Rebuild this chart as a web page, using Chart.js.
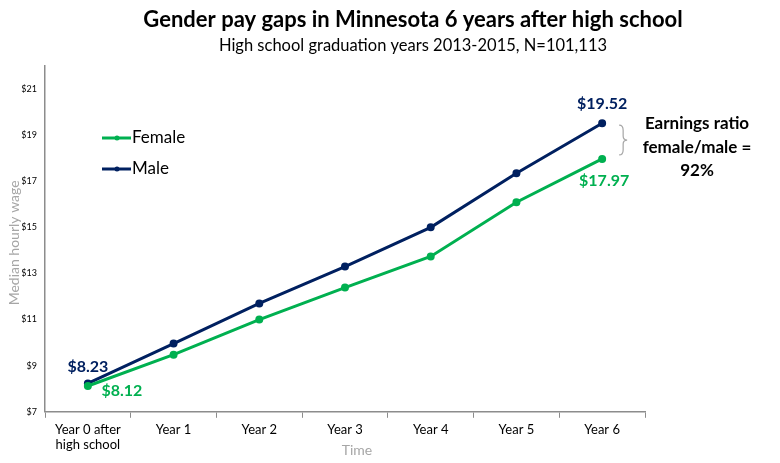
<!DOCTYPE html>
<html>
<head>
<meta charset="utf-8">
<script src="https://cdn.jsdelivr.net/npm/chart.js@4"></script>
<style>
  body { margin: 0; background: #fff; }
  #wrap { width: 780px; height: 463px; position: relative; }
</style>
</head>
<body>
<div id="wrap"><canvas id="payChart"></canvas></div>
<script>
var years = [['Year 0 after', 'high school'], 'Year 1', 'Year 2', 'Year 3', 'Year 4', 'Year 5', 'Year 6'];
var female = [8.12, 9.48, 11.0, 12.39, 13.74, 16.09, 17.97];
var male = [8.23, 9.96, 11.70, 13.30, 15.0, 17.35, 19.52];
var yTicks = [7, 9, 11, 13, 15, 17, 19, 21];

var green = '#00b050';
var navy = '#002060';
var FONT = 'Lato, "Open Sans", sans-serif';

// titles, legend, value labels and the ratio note
var overlay = {
    id: 'overlay',
    afterDraw: function (chart) {
        var ctx = chart.ctx;
        var area = chart.chartArea;
        var f = chart.getDatasetMeta(0).data;
        var m = chart.getDatasetMeta(1).data;
        ctx.save();
        ctx.textAlign = 'center';
        ctx.textBaseline = 'middle';

        ctx.fillStyle = '#000';
        ctx.font = 'bold 22px ' + FONT;
        ctx.fillText('Gender pay gaps in Minnesota 6 years after high school', 413, 20);
        ctx.font = '16.5px ' + FONT;
        ctx.fillText('High school graduation years 2013-2015, N=101,113', 413, 46);

        // y axis title sits over the tick labels on a white box
        ctx.save();
        ctx.translate(14, (area.top + area.bottom) / 2 + 4);
        ctx.rotate(-Math.PI / 2);
        ctx.font = '14px ' + FONT;
        var tw = ctx.measureText('Median hourly wage').width;
        ctx.fillStyle = '#fff';
        ctx.fillRect(-tw / 2 - 2, -8, tw + 4, 16);
        ctx.fillStyle = '#a6a6a6';
        ctx.fillText('Median hourly wage', 0, 0);
        ctx.restore();

        // legend
        var items = [['Female', green, 138], ['Male', navy, 169]];
        items.forEach(function (it) {
            ctx.strokeStyle = it[1];
            ctx.fillStyle = it[1];
            ctx.lineWidth = 3;
            ctx.beginPath();
            ctx.moveTo(102, it[2]);
            ctx.lineTo(131, it[2]);
            ctx.stroke();
            ctx.beginPath();
            ctx.arc(117, it[2], 2.5, 0, Math.PI * 2);
            ctx.fill();
            ctx.fillStyle = '#000';
            ctx.textAlign = 'left';
            ctx.font = '17px ' + FONT;
            ctx.fillText(it[0], 132, it[2]);
        });

        // value labels
        ctx.font = 'bold 16px ' + FONT;
        ctx.textAlign = 'center';
        ctx.fillStyle = navy;
        ctx.fillText('$' + male[0].toFixed(2), m[0].x, m[0].y - 17);
        ctx.fillText('$' + male[6].toFixed(2), m[6].x, m[6].y - 19);
        ctx.fillStyle = green;
        ctx.fillText('$' + female[0].toFixed(2), f[0].x + 34, f[0].y + 5);
        ctx.fillText('$' + female[6].toFixed(2), f[6].x + 2, f[6].y + 22);

        // bracket between last points
        var bx = m[6].x + 17;
        var top = m[6].y + 2, bot = f[6].y - 4, mid = (top + bot) / 2;
        ctx.strokeStyle = '#a6a6a6';
        ctx.lineWidth = 1.2;
        ctx.beginPath();
        ctx.moveTo(bx, top);
        ctx.quadraticCurveTo(bx + 4, top, bx + 4, top + 5);
        ctx.lineTo(bx + 4, mid - 4);
        ctx.quadraticCurveTo(bx + 4, mid, bx + 8, mid);
        ctx.quadraticCurveTo(bx + 4, mid, bx + 4, mid + 4);
        ctx.lineTo(bx + 4, bot - 5);
        ctx.quadraticCurveTo(bx + 4, bot, bx, bot);
        ctx.stroke();

        ctx.fillStyle = '#000';
        ctx.font = 'bold 17px ' + FONT;
        ctx.fillText('Earnings ratio', 697, 124);
        ctx.fillText('female/male =', 697, 148);
        ctx.fillText(Math.round(female[6] / male[6] * 100) + '%', 697, 171);

        ctx.fillStyle = '#a6a6a6';
        ctx.font = '14px ' + FONT;
        ctx.fillText('Time', 357, 450);
        ctx.restore();
    }
};

new Chart(document.getElementById('payChart'), {
    type: 'line',
    data: {
        labels: years,
        datasets: [
            {
                label: 'Female',
                data: female,
                borderColor: green,
                backgroundColor: green,
                borderWidth: 3,
                pointRadius: 2.5,
                pointHoverRadius: 2.5
            },
            {
                label: 'Male',
                data: male,
                borderColor: navy,
                backgroundColor: navy,
                borderWidth: 3,
                pointRadius: 2.5,
                pointHoverRadius: 2.5
            }
        ]
    },
    options: {
        responsive: true,
        maintainAspectRatio: false,
        animation: false,
        events: [],
        layout: { padding: { left: 0, right: 135, top: 66, bottom: 6 } },
        plugins: {
            legend: { display: false },
            tooltip: { enabled: false }
        },
        scales: {
            x: {
                offset: true,
                grid: {
                    offset: true,
                    drawOnChartArea: false,
                    tickLength: 6,
                    color: '#8c8c8c'
                },
                border: { color: '#8c8c8c', width: 1.5 },
                ticks: {
                    color: '#000',
                    font: { family: FONT, size: 13 },
                    maxRotation: 0,
                    padding: 4
                }
            },
            y: {
                min: 7,
                max: 22,
                afterBuildTicks: function (axis) {
                    axis.ticks = yTicks.map(function (v) { return { value: v }; });
                },
                afterFit: function (axis) { axis.width = 45; },
                grid: { display: false, drawTicks: false, tickLength: 0 },
                border: { color: '#8c8c8c', width: 1.5 },
                ticks: {
                    color: '#000',
                    font: { family: FONT, size: 9 },
                    padding: 8,
                    callback: function (v) { return '$' + v; }
                }
            }
        }
    },
    plugins: [overlay]
});
</script>
</body>
</html>
